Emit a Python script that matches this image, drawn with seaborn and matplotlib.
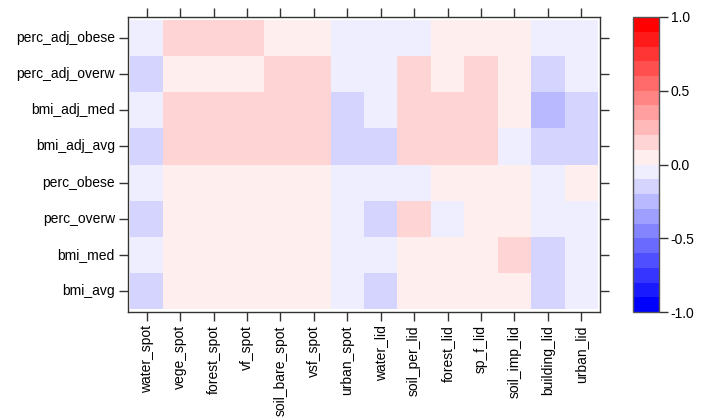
import numpy as np
import pandas as pd
import seaborn as sns
import matplotlib
matplotlib.use("Agg")
import matplotlib.pyplot as plt
from matplotlib.colors import ListedColormap

# row / column labels of the correlation table
rows = ["perc_adj_obese", "perc_adj_overw", "bmi_adj_med", "bmi_adj_avg",
        "perc_obese", "perc_overw", "bmi_med", "bmi_avg"]
cols = ["water_spot", "vege_spot", "forest_spot", "vf_spot", "soil_bare_spot",
        "vsf_spot", "urban_spot", "water_lid", "soil_per_lid", "forest_lid",
        "sp_f_lid", "soil_imp_lid", "building_lid", "urban_lid"]

# correlations (binned in steps of 0.1)
perc_adj_obese = [-0.05, 0.15, 0.15, 0.15, 0.05, 0.05, -0.05, -0.05, -0.05, 0.05, 0.05, 0.05, -0.05, -0.05]
perc_adj_overw = [-0.15, 0.05, 0.05, 0.05, 0.15, 0.15, -0.05, -0.05, 0.15, 0.05, 0.15, 0.05, -0.15, -0.05]
bmi_adj_med    = [-0.05, 0.15, 0.15, 0.15, 0.15, 0.15, -0.15, -0.05, 0.15, 0.15, 0.15, 0.05, -0.25, -0.15]
bmi_adj_avg    = [-0.15, 0.15, 0.15, 0.15, 0.15, 0.15, -0.15, -0.15, 0.15, 0.15, 0.15, -0.05, -0.15, -0.15]
perc_obese     = [-0.05, 0.05, 0.05, 0.05, 0.05, 0.05, -0.05, -0.05, -0.05, 0.05, 0.05, 0.05, -0.05, 0.05]
perc_overw     = [-0.15, 0.05, 0.05, 0.05, 0.05, 0.05, -0.05, -0.15, 0.15, -0.05, 0.05, 0.05, -0.05, -0.05]
bmi_med        = [-0.05, 0.05, 0.05, 0.05, 0.05, 0.05, -0.05, -0.05, 0.05, 0.05, 0.05, 0.15, -0.15, -0.05]
bmi_avg        = [-0.15, 0.05, 0.05, 0.05, 0.05, 0.05, -0.05, -0.15, 0.05, 0.05, 0.05, 0.05, -0.15, -0.05]

df = pd.DataFrame([perc_adj_obese, perc_adj_overw, bmi_adj_med, bmi_adj_avg,
                   perc_obese, perc_overw, bmi_med, bmi_avg],
                  index=rows, columns=cols)

# 20 step blue-white-red palette like the lattice one
blue_side = [(v / 255, v / 255, 1.0) for v in np.round(238 * np.arange(10) / 9)]
red_side = [(1.0, v / 255, v / 255) for v in np.round(238 * np.arange(10) / 9)[::-1]]
cmap = ListedColormap(blue_side + red_side)

plt.rcParams['font.family'] = ['Liberation Sans', 'DejaVu Sans']
fig = plt.figure(figsize=(7.12, 4.18), dpi=100)
ax = fig.add_axes([128 / 712, 1 - 312 / 418, 472 / 712, 295 / 418])
cax = fig.add_axes([633 / 712, 1 - 312 / 418, 26 / 712, 295 / 418])

sns.heatmap(df, cmap=cmap, vmin=-1, vmax=1, ax=ax, cbar_ax=cax, linewidths=0)

ax.set_xlim(-0.06, len(cols) + 0.06)
ax.set_ylim(len(rows) + 0.08, -0.08)
for s in ax.spines.values():
    s.set_visible(True)
    s.set_color("#333333")
    s.set_linewidth(1.0)
ax.tick_params(axis="both", which="both", direction="out", length=6.5, width=1,
               color="#333333", labelsize=10, pad=3,
               top=True, right=True, bottom=True, left=True)
ax.set_xticklabels(cols, rotation=90)
ax.set_yticklabels(rows, rotation=0)
ax.set_xlabel("")
ax.set_ylabel("")

cb = ax.collections[0].colorbar
cb.set_ticks([-1, -0.5, 0, 0.5, 1])
cb.set_ticklabels(["-1.0", "-0.5", "0.0", "0.5", "1.0"])
cb.outline.set_visible(True)
cb.outline.set_edgecolor("#555555")
cb.outline.set_linewidth(1.0)
cax.tick_params(direction="out", length=6.5, width=1, color="#333333",
                labelsize=10, pad=2)

fig.savefig("out.png", dpi=100)
